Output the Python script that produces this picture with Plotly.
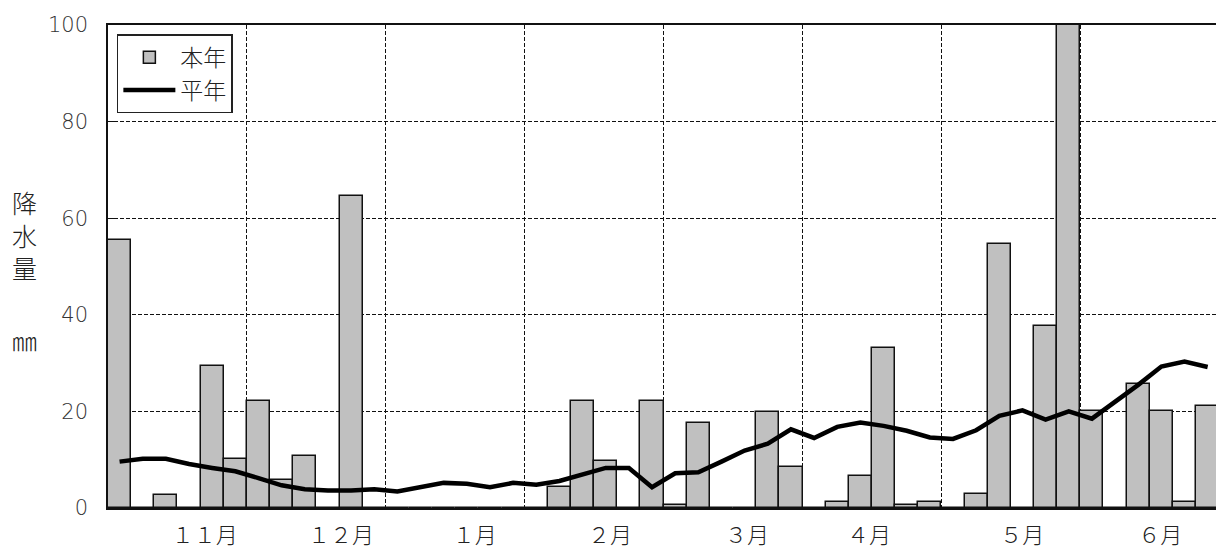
import plotly.graph_objects as go

# 半旬ごとの降水量（mm）：本年と平年
period_index = list(range(48))
this_year = [55.5, 0, 2.7, 0, 29.4, 10.1, 22.2, 5.9, 10.7, 0, 64.7, 0,
             0, 0, 0, 0, 0, 0, 0, 4.3, 22.1, 9.8, 0, 22.1,
             0.6, 17.6, 0, 0, 19.9, 8.5, 0, 1.2, 6.7, 33.1, 0.6, 1.2,
             0, 3.0, 54.7, 0, 37.7, 110, 20.0, 0, 25.6, 20.0, 1.2, 21.2]
normal_year = [9.6, 10.2, 10.2, 9.1, 8.3, 7.6, 6.2, 4.7, 3.9, 3.6, 3.6, 3.9,
               3.4, 4.3, 5.2, 5.0, 4.3, 5.2, 4.8, 5.6, 6.9, 8.3, 8.3, 4.3,
               7.2, 7.4, 9.6, 11.9, 13.3, 16.3, 14.5, 16.8, 17.7, 17.0, 16.0, 14.6,
               14.3, 16.1, 19.1, 20.2, 18.3, 20.0, 18.5, 21.9, 25.5, 29.3, 30.3, 29.2]

# 月ラベルとその位置（半旬単位）
month_labels = ["１１月", "１２月", "１月", "２月", "３月", "４月", "５月", "６月"]
month_label_pos = [4.18, 10.06, 15.84, 21.68, 27.6, 32.87, 39.49, 45.45]
# 月区切りの縦グリッド（6半旬ごと）
month_bounds = [6, 12, 18, 24, 30, 36, 42]
y_ticks = [0, 20, 40, 60, 80, 100]

x_center = [i + 0.5 for i in period_index]

CJK = "Noto Sans CJK JP"
GRID_DASH = "4px,2px"

fig = go.Figure()
fig.add_trace(go.Bar(
    x=x_center, y=this_year, name="本年", width=1.0,
    marker=dict(color="#c0c0c0", line=dict(color="#111111", width=1.5)),
))
fig.add_trace(go.Scatter(
    x=x_center, y=normal_year, name="平年", mode="lines",
    line=dict(color="#000000", width=4.5),
))

fig.update_layout(
    width=1216, height=551,
    margin=dict(l=108, r=0, t=25, b=43),
    paper_bgcolor="white", plot_bgcolor="white",
    bargap=0,
    showlegend=True,
    legend=dict(
        x=0.008, y=0.981, xanchor="left", yanchor="top",
        bgcolor="white", bordercolor="#222222", borderwidth=1.5,
        font=dict(family=CJK, size=23, color="#222222", weight=300),
        itemwidth=52, tracegroupgap=0,
    ),
    xaxis=dict(
        range=[0, 47.86],
        showline=True, mirror=True, linecolor="#111111", linewidth=1.5,
        tickmode="array", tickvals=month_label_pos, ticktext=month_labels,
        ticks="", showgrid=False, zeroline=False,
        tickfont=dict(family=CJK, size=22, color="#222222", weight=300),
        ticklabelstandoff=7,
        minor=dict(tickmode="array", tickvals=month_bounds, showgrid=True,
                   gridcolor="#111111", gridwidth=1, griddash=GRID_DASH, ticks=""),
        layer="below traces",
    ),
    yaxis=dict(
        range=[0, 100],
        tickmode="array", tickvals=y_ticks,
        showline=True, mirror=False, linecolor="#111111", linewidth=1.5,
        ticks="inside", ticklen=8, tickcolor="#111111", tickwidth=1,
        showgrid=True, gridcolor="#111111", gridwidth=1, griddash=GRID_DASH,
        zeroline=False,
        tickfont=dict(family="DejaVu Sans", size=21, color="#333333", weight=200),
        ticklabelstandoff=14,
        layer="below traces",
    ),
    annotations=[
        dict(text="降<br>水<br>量", xref="paper", yref="paper",
             x=-0.0754, y=0.567, xanchor="center", yanchor="middle",
             showarrow=False, font=dict(family=CJK, size=25, color="#222222", weight=300)),
        dict(text="㎜", xref="paper", yref="paper",
             x=-0.0754, y=0.348, xanchor="center", yanchor="middle",
             showarrow=False, font=dict(family=CJK, size=25, color="#222222", weight=300)),
    ],
)

fig.write_html("out.html")
